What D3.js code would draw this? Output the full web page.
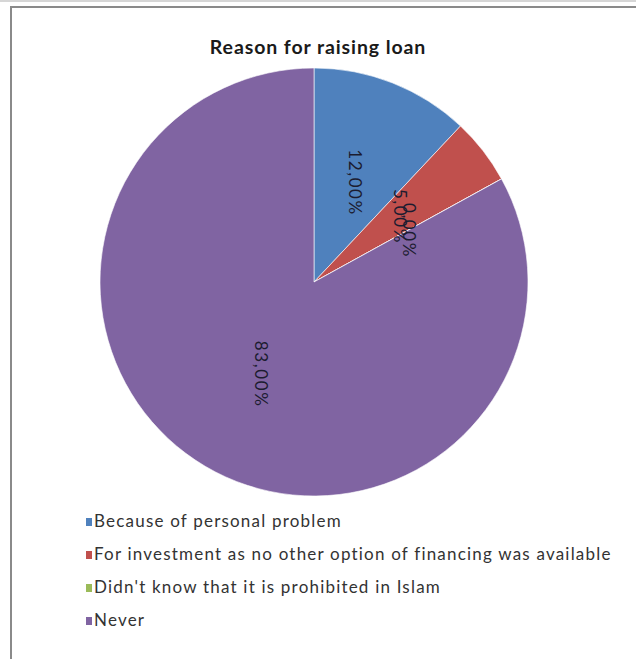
<!DOCTYPE html>
<html>
<head>
<meta charset="utf-8">
<script src="https://cdn.jsdelivr.net/npm/d3@7"></script>
<style>
  html, body { margin: 0; padding: 0; background: #fff; }
  svg { display: block; }
</style>
</head>
<body>
<script>
// Survey answers: reason for raising a loan
const categories = [
  "Because of personal problem",
  "For investment as no other option of financing was available",
  "Didn't know that it is prohibited in Islam",
  "Never"
];
const values = [12, 5, 0, 83];
const valueLabels = ["12,00%", "5,00%", "0,00%", "83,00%"];
const colors = ["#4F81BD", "#C0504D", "#9BBB59", "#8064A2"];
const title = "Reason for raising loan";

const W = 636, H = 659;
const svg = d3.select("body").append("svg").attr("width", W).attr("height", H);

// frame lines
svg.append("line").attr("x1", 0).attr("x2", W).attr("y1", 1).attr("y2", 1)
  .attr("stroke", "#c8c8c8").attr("stroke-width", 1.5);
svg.append("line").attr("x1", 10).attr("x2", W).attr("y1", 7).attr("y2", 7)
  .attr("stroke", "#8a8a8a").attr("stroke-width", 2);
svg.append("line").attr("x1", 11).attr("x2", 11).attr("y1", 6).attr("y2", H)
  .attr("stroke", "#8a8a8a").attr("stroke-width", 2);

const font = "Lato, 'Open Sans', sans-serif";

svg.append("text")
  .attr("x", 318).attr("y", 54)
  .attr("text-anchor", "middle")
  .attr("font-family", font)
  .attr("font-weight", "bold")
  .attr("font-size", 19.5)
  .attr("letter-spacing", 0.9)
  .attr("fill", "#1a1a1a")
  .text(title);

const cx = 314, cy = 282, r = 214;
const data = categories.map((c, i) => ({ name: c, value: values[i], label: valueLabels[i], color: colors[i] }));

const pie = d3.pie().value(d => d.value).sort(null);
const arc = d3.arc().innerRadius(0).outerRadius(r);
const labelArc = d3.arc().innerRadius(r * 0.5).outerRadius(r * 0.5);

const g = svg.append("g").attr("transform", `translate(${cx},${cy})`);
const arcs = pie(data);

g.selectAll("path.slice").data(arcs).join("path")
  .attr("class", "slice")
  .attr("d", arc)
  .attr("fill", d => d.data.color)
  .attr("stroke", "#fff")
  .attr("stroke-width", 0.6);

g.selectAll("text.lbl").data(arcs).join("text")
  .attr("class", "lbl")
  .attr("transform", d => {
    const [x, y] = labelArc.centroid(d);
    return `translate(${x},${y}) rotate(90)`;
  })
  .attr("text-anchor", "middle")
  .attr("dominant-baseline", "middle")
  .attr("font-family", font)
  .attr("font-size", 17)
  .attr("letter-spacing", 1.6)
  .attr("fill", "#1c1c30")
  .text(d => d.data.label);

// legend
const legend = svg.append("g").attr("transform", "translate(86,522)");
const rows = legend.selectAll("g").data(data).join("g")
  .attr("transform", (d, i) => `translate(0,${i * 33})`);
rows.append("rect").attr("x", 0).attr("y", -4).attr("width", 6).attr("height", 8)
  .attr("fill", d => d.color);
rows.append("text").attr("x", 8).attr("y", 1)
  .attr("dominant-baseline", "middle")
  .attr("font-family", font)
  .attr("font-size", 17)
  .attr("letter-spacing", 1.2)
  .attr("fill", "#333")
  .text(d => d.name);
</script>
</body>
</html>
